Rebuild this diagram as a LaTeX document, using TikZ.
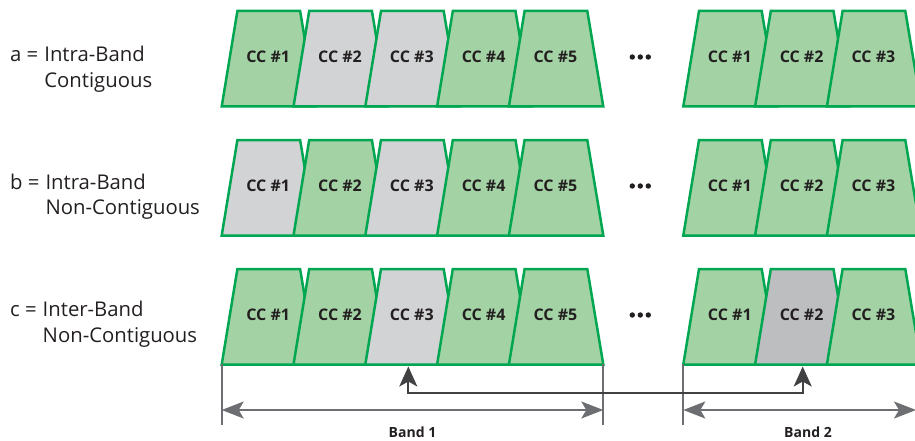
\documentclass[tikz,border=0pt]{standalone}
\usepackage{fontspec}
\setmainfont{Open Sans}
\usetikzlibrary{arrows.meta,positioning,calc}
\definecolor{ccline}{RGB}{0,166,81}
\definecolor{ccgreen}{RGB}{163,211,164}
\definecolor{ccgrey}{RGB}{209,211,212}
\definecolor{ccdark}{RGB}{188,190,192}
\definecolor{bandgrey}{RGB}{109,110,113}
\definecolor{linkgrey}{RGB}{65,64,66}
\definecolor{txt}{RGB}{35,31,32}

\begin{document}
\begin{tikzpicture}[x=1pt,y=-1pt,
  cc/.style={draw=ccline,line width=2.5pt},
  cclabel/.style={text=txt,inner sep=0pt,font=\fontsize{16}{16}\selectfont\bfseries},
  rowlabel/.style={text=txt,inner sep=0pt,anchor=base west,font=\fontsize{20.3}{25.5}\selectfont},
  bandlabel/.style={text=txt,inner sep=0pt,font=\fontsize{14}{14}\selectfont\bfseries},
  band/.style={draw=bandgrey,line width=2pt,{Stealth[length=22pt,width=17pt,inset=5pt]}-{Stealth[length=22pt,width=17pt,inset=5pt]}},
  link/.style={draw=linkgrey,line width=2pt,{Stealth[length=20pt,width=18pt,inset=5pt]}-{Stealth[length=20pt,width=18pt,inset=5pt]}}]
  \useasboundingbox (0,0) rectangle (915,441);
  \foreach \r/\y/\ly/\ltext/\fa/\fb/\fc/\fd/\fe/\ga/\gb/\gc in {
      a/11/62/{a =&Intra-Band\\&Contiguous}/ccgreen/ccgrey/ccgrey/ccgreen/ccgreen/ccgreen/ccgreen/ccgreen,
      b/140/189.3/{b =&Intra-Band\\&Non-Contiguous}/ccgrey/ccgreen/ccgrey/ccgreen/ccgreen/ccgreen/ccgreen/ccgreen,
      c/269/316.7/{c =&Inter-Band\\&Non-Contiguous}/ccgreen/ccgreen/ccgrey/ccgreen/ccgreen/ccgreen/ccdark/ccgreen}{
    \node[rowlabel] (l\r) at (10,\ly) {\begin{tabular}[t]{@{}l@{\hspace{6pt}}l@{}}\ltext\end{tabular}};
    \foreach \i/\col in {1/\fa,2/\fb,3/\fc,4/\fd,5/\fe}{
      \pgfmathsetmacro\x{221.7+71.8*(\i-1)}
      \draw[cc,fill=\col] (\x,\y+95.5) -- ++(15.7,-95.5) -- ++(62.7,0) -- ++(16,95.5) -- cycle;
      \node[cclabel] (\r\i) at (\x+46.5,\y+46) {CC \#\i};
    }
    \foreach \i/\col in {1/\ga,2/\gb,3/\gc}{
      \pgfmathsetmacro\x{683.3+71.8*(\i-1)}
      \draw[cc,fill=\col] (\x,\y+95.5) -- ++(15.7,-95.5) -- ++(62.7,0) -- ++(16,95.5) -- cycle;
      \node[cclabel] (\r b\i) at (\x+46.5,\y+46) {CC \#\i};
    }
    \fill[txt] (632.3,\y+46) circle (2.7) (640.3,\y+46) circle (2.7) (648.3,\y+46) circle (2.7);
  }
  \coordinate (b1l) at (221.7,364);
  \coordinate (b1r) at (603.3,364);
  \coordinate (b2l) at (683.3,364);
  \coordinate (b2r) at (916,364);
  \draw[bandgrey,line width=2pt] (b1l) -- ++(0,61) (b1r) -- ++(0,61) (b2l) -- ++(0,61);
  \draw[band] ($(b1l)+(0,46)$) -- ($(b1r)+(0,46)$);
  \draw[band] ($(b2l)+(0,46)$) -- ($(b2r)+(0,46)$);
  \node[bandlabel] (band1) at ($(b1l)!0.5!(b1r)+(0,68)$) {Band 1};
  \node[bandlabel] (band2) at (808,432) {Band 2};
  \coordinate (c3b) at (408.3,366.5);
  \coordinate (cb2b) at (802.7,366.5);
  \draw[link] (c3b) -- ++(0,26.5) -| (cb2b);
\end{tikzpicture}
\end{document}
